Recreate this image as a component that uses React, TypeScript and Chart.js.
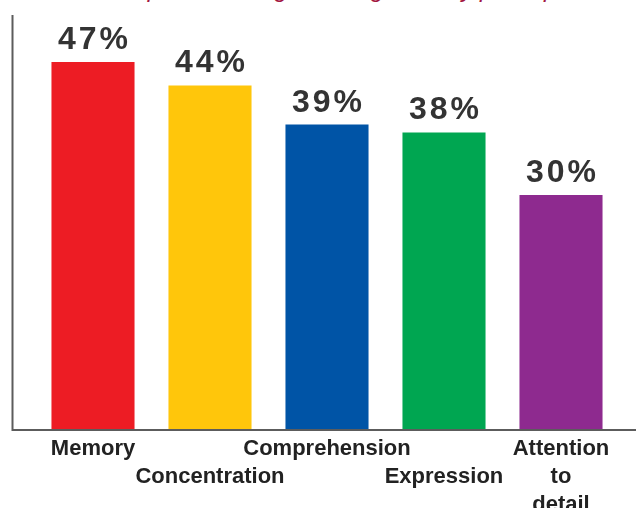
import React, { useEffect, useRef } from "react";
import { Chart, registerables } from "chart.js";

Chart.register(...registerables);

const categories = ["Memory", "Concentration", "Comprehension", "Expression", "Attention to detail"];
const tickLabels: string[][] = [
  ["Memory"],
  ["", "Concentration"],
  ["Comprehension"],
  ["", "Expression"],
  ["Attention", "to", "detail"],
];
const values = [47, 44, 39, 38, 30];
const barColors = ["#ED1C24", "#FFC60B", "#0054A6", "#00A651", "#8E2A8F"];
const titleText = "Reported changes in cognition by participants";

const decorPlugin = {
  id: "decor",
  afterDatasetsDraw(chart: any) {
    const { ctx, chartArea } = chart;
    ctx.save();
    ctx.strokeStyle = "#5c5c5c";
    ctx.lineWidth = 2;
    ctx.beginPath();
    const axisX = chartArea.left - 22;
    ctx.moveTo(axisX, chartArea.top);
    ctx.lineTo(axisX, chartArea.bottom);
    ctx.lineTo(chart.width, chartArea.bottom);
    ctx.stroke();

    const meta = chart.getDatasetMeta(0);
    const spacing = 3;
    ctx.font = "bold 32px 'Liberation Sans', Arial, sans-serif";
    (ctx as any).letterSpacing = spacing + "px";
    ctx.fillStyle = "#333333";
    ctx.textAlign = "center";
    ctx.textBaseline = "alphabetic";
    meta.data.forEach((bar: any, i: number) => {
      ctx.fillText(values[i] + "%", bar.x + spacing / 2, bar.y - 13);
    });
    ctx.restore();
  },
};

export default function App() {
  const canvasRef = useRef<HTMLCanvasElement | null>(null);

  useEffect(() => {
    if (!canvasRef.current) return;
    const chart = new Chart(canvasRef.current, {
      type: "bar",
      data: {
        labels: categories,
        datasets: [
          {
            data: values,
            backgroundColor: barColors,
            borderWidth: 0,
            categoryPercentage: 1,
            barPercentage: 0.71,
          },
        ],
      },
      options: {
        animation: false,
        responsive: true,
        maintainAspectRatio: false,
        layout: { padding: { left: 34.5, right: 16.5, top: 15, bottom: 0 } },
        plugins: {
          legend: { display: false },
          tooltip: { enabled: false },
          title: { display: false },
        },
        scales: {
          y: { display: false, min: 0, max: 53 },
          x: {
            grid: { display: false, drawTicks: false },
            border: { display: false },
            ticks: {
              autoSkip: false,
              maxRotation: 0,
              minRotation: 0,
              padding: 5,
              color: "#222222",
              font: { family: "'Liberation Sans', Arial, sans-serif", size: 22, weight: "bold", lineHeight: 28 / 22 },
              callback: (_v: any, i: number) => tickLabels[i],
            },
            afterFit: (scale: any) => {
              scale.height = 78;
            },
          },
        },
      },
      plugins: [decorPlugin],
    });
    return () => chart.destroy();
  }, []);

  return (
    <div style={{ position: "fixed", left: 0, top: 0, width: 636, height: 508, overflow: "hidden", background: "#fff" }}>
      <div
        style={{
          position: "absolute",
          top: -23,
          left: 0,
          width: 720,
          textAlign: "center",
          fontFamily: "'Liberation Sans', Arial, sans-serif",
          fontStyle: "italic",
          fontSize: 24,
          lineHeight: "24px",
          color: "#A3173F",
          whiteSpace: "nowrap",
        }}
      >
        {titleText}
      </div>
      <canvas ref={canvasRef} style={{ position: "absolute", left: 0, top: 0 }} />
    </div>
  );
}
